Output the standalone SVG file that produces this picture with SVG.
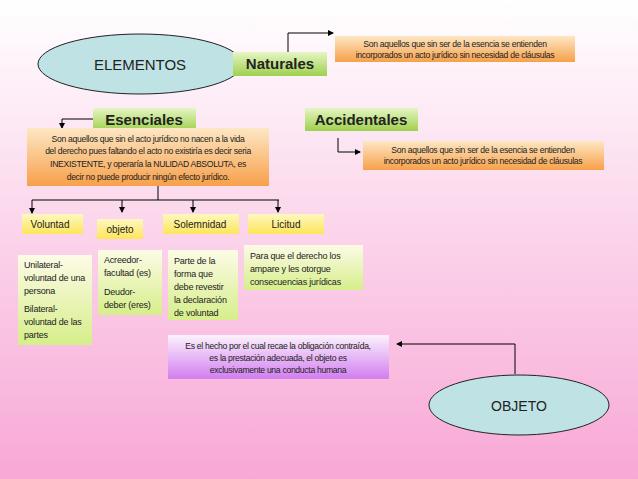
<svg xmlns="http://www.w3.org/2000/svg" width="638" height="479" viewBox="0 0 638 479">
<defs>
<linearGradient id="bg" x1="0" y1="0" x2="0" y2="1"><stop offset="0" stop-color="#ffffff"/><stop offset="0.35" stop-color="#fce0f0"/><stop offset="1" stop-color="#f8a8d6"/></linearGradient>
<linearGradient id="gr" x1="0" y1="0" x2="0" y2="1"><stop offset="0" stop-color="#e6f5c4"/><stop offset="1" stop-color="#9fd04e"/></linearGradient>
<linearGradient id="or" x1="0" y1="0" x2="0" y2="1"><stop offset="0" stop-color="#fde7c4"/><stop offset="1" stop-color="#f7a04a"/></linearGradient>
<linearGradient id="ye" x1="0" y1="0" x2="0" y2="1"><stop offset="0" stop-color="#fdf8c0"/><stop offset="1" stop-color="#fde55a"/></linearGradient>
<linearGradient id="yg" x1="0" y1="0" x2="0" y2="1"><stop offset="0" stop-color="#fdfbe6"/><stop offset="1" stop-color="#d6ee8a"/></linearGradient>
<linearGradient id="pu" x1="0" y1="0" x2="0" y2="1"><stop offset="0" stop-color="#fbf2fb"/><stop offset="1" stop-color="#d27ef0"/></linearGradient>
<marker id="ah" markerWidth="6" markerHeight="6" refX="5" refY="3" orient="auto"><path d="M0,0 L6,3 L0,6 z" fill="#000"/></marker>
</defs>
<style>
.t{font-family:"Liberation Sans",Arial,sans-serif;fill:#222}
.h{font-size:15px;font-weight:bold;text-anchor:middle}
.s{font-size:8.6px;text-anchor:middle;letter-spacing:-0.3px}
.b{font-size:10px;text-anchor:middle}
.l{font-size:9px;letter-spacing:-0.2px}
.c line,.c path,.c polyline{stroke:#000;stroke-width:1;fill:none}
</style>
<rect width="638" height="479" fill="url(#bg)"/>
<g class="c">
<polyline points="288,52 288,33 333,33" marker-end="url(#ah)"/>
<polyline points="93,119 62,119 62,128" marker-end="url(#ah)"/>
<polyline points="338,138 338,152 360,152" marker-end="url(#ah)"/>
<line x1="158" y1="186" x2="158" y2="200"/>
<line x1="32" y1="200" x2="279" y2="200"/>
<line x1="32" y1="200" x2="32" y2="213" marker-end="url(#ah)"/>
<line x1="122" y1="200" x2="122" y2="212" marker-end="url(#ah)"/>
<line x1="193" y1="200" x2="193" y2="212" marker-end="url(#ah)"/>
<line x1="278" y1="200" x2="278" y2="212" marker-end="url(#ah)"/>
<polyline points="515,374 515,344 397,344" marker-end="url(#ah)"/>
</g>
<g id="elementos"><ellipse cx="140" cy="64" rx="102" ry="30" fill="#bfe2e4" stroke="#222"/><text class="t" x="140" y="70" font-size="15" text-anchor="middle">ELEMENTOS</text></g>
<g id="naturales"><rect x="233" y="52" width="94" height="24" fill="url(#gr)"/><text class="t h" x="280" y="69">Naturales</text></g>
<g id="naturales-desc"><rect x="335" y="36" width="240" height="26" fill="url(#or)"/><text class="t s" x="455" y="47">Son aquellos que sin ser de la esencia se entienden</text><text class="t s" x="455" y="58">incorporados un acto jurídico sin necesidad de cláusulas</text></g>
<g id="esenciales"><rect x="93" y="108" width="103" height="23" fill="url(#gr)"/><text class="t h" x="144" y="125">Esenciales</text></g>
<g id="accidentales"><rect x="305" y="108" width="113" height="23" fill="url(#gr)"/><text class="t h" x="361" y="125">Accidentales</text></g>
<g id="esenciales-desc"><rect x="27" y="128" width="242" height="58" fill="url(#or)"/>
<text class="t s" x="148" y="142">Son aquellos que sin el acto jurídico no nacen a la  vida</text>
<text class="t s" x="148" y="154">del derecho pues faltando el acto no existiría es decir seria</text>
<text class="t s" x="148" y="167">INEXISTENTE, y operaría la NULIDAD ABSOLUTA, es</text>
<text class="t s" x="148" y="180">decir no puede producir ningún efecto jurídico.</text></g>
<g id="accidentales-desc"><rect x="363" y="141" width="241" height="29" fill="url(#or)"/><text class="t s" x="483" y="153">Son aquellos que sin ser de la esencia se entienden</text><text class="t s" x="483" y="164">incorporados un acto jurídico sin necesidad de cláusulas</text></g>
<g id="voluntad"><rect x="22" y="214" width="61" height="20" fill="url(#ye)"/><text class="t b" x="50" y="228">Voluntad</text></g>
<g id="objeto"><rect x="97" y="219" width="46" height="20" fill="url(#ye)"/><text class="t b" x="120" y="233">objeto</text></g>
<g id="solemnidad"><rect x="163" y="214" width="76" height="20" fill="url(#ye)"/><text class="t b" x="200" y="228">Solemnidad</text></g>
<g id="licitud"><rect x="248" y="214" width="76" height="20" fill="url(#ye)"/><text class="t b" x="286" y="228">Licitud</text></g>
<g id="voluntad-desc"><rect x="18" y="255" width="74" height="90" fill="url(#yg)"/>
<text class="t l" x="24" y="268">Unilateral-</text><text class="t l" x="24" y="281">voluntad de una</text><text class="t l" x="24" y="294">persona</text><text class="t l" x="24" y="312">Bilateral-</text><text class="t l" x="24" y="325">voluntad de las</text><text class="t l" x="24" y="338">partes</text></g>
<g id="objeto-desc"><rect x="98" y="250" width="64" height="65" fill="url(#yg)"/>
<text class="t l" x="104" y="263">Acreedor-</text><text class="t l" x="104" y="276">facultad (es)</text><text class="t l" x="104" y="295">Deudor-</text><text class="t l" x="104" y="308">deber (eres)</text></g>
<g id="solemnidad-desc"><rect x="168" y="250" width="70" height="70" fill="url(#yg)"/>
<text class="t l" x="174" y="264">Parte de la</text><text class="t l" x="174" y="277">forma que</text><text class="t l" x="174" y="290">debe revestir</text><text class="t l" x="174" y="303">la declaración</text><text class="t l" x="174" y="316">de voluntad</text></g>
<g id="licitud-desc"><rect x="244" y="245" width="119" height="45" fill="url(#yg)"/>
<text class="t l" x="250" y="259">Para que el derecho los</text><text class="t l" x="250" y="272">ampare y les otorgue</text><text class="t l" x="250" y="285">consecuencias jurídicas</text></g>
<g id="objeto-desc2"><rect x="168" y="335" width="221" height="44" fill="url(#pu)"/>
<text class="t s" x="278" y="349">Es el hecho por el cual recae la obligación contraída,</text><text class="t s" x="278" y="361">es la prestación adecuada, el objeto es</text><text class="t s" x="278" y="373">exclusivamente una conducta humana</text></g>
<g id="objeto-ellipse"><ellipse cx="519" cy="405" rx="90" ry="30" fill="#bfe2e4" stroke="#222"/><text class="t" x="519" y="411" font-size="14" text-anchor="middle">OBJETO</text></g>
</svg>
